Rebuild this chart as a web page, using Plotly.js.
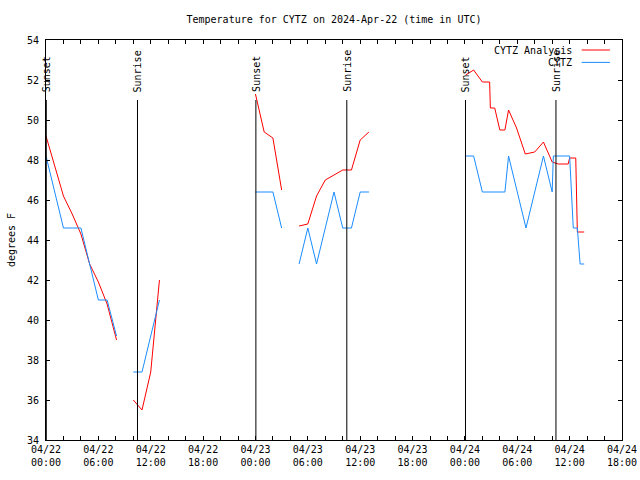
<!DOCTYPE html>
<html>
<head>
<meta charset="utf-8">
<script src="https://cdn.plot.ly/plotly-3.0.1.min.js"></script>
<style>html,body{margin:0;padding:0;background:#fff;}#chart{width:640px;height:480px;}</style>
</head>
<body>
<div id="chart"></div>
<script>
// ---- data ----
const analysisTimes = [
  '2024-04-22 00:00','2024-04-22 01:00','2024-04-22 02:00','2024-04-22 03:00','2024-04-22 04:00',
  '2024-04-22 05:00','2024-04-22 06:00','2024-04-22 07:00','2024-04-22 08:05','2024-04-22 09:00',
  '2024-04-22 10:00','2024-04-22 11:00','2024-04-22 12:00','2024-04-22 13:00','2024-04-22 18:00',
  '2024-04-23 00:00','2024-04-23 01:00','2024-04-23 02:00','2024-04-23 03:00','2024-04-23 04:00',
  '2024-04-23 05:00','2024-04-23 06:00','2024-04-23 07:00','2024-04-23 08:00','2024-04-23 09:00',
  '2024-04-23 10:00','2024-04-23 11:00','2024-04-23 12:00','2024-04-23 13:00','2024-04-23 18:00',
  '2024-04-24 00:05','2024-04-24 01:00','2024-04-24 02:00','2024-04-24 02:50','2024-04-24 02:55',
  '2024-04-24 03:25','2024-04-24 04:00','2024-04-24 04:35','2024-04-24 05:00','2024-04-24 05:55',
  '2024-04-24 06:55','2024-04-24 08:00','2024-04-24 09:00','2024-04-24 10:00','2024-04-24 10:42',
  '2024-04-24 11:50','2024-04-24 12:00','2024-04-24 12:42','2024-04-24 12:53','2024-04-24 13:40'
];
const analysisTemps = [
  49.2, 47.7, 46.2, 45.3, 44.3,
  42.8, 41.9, 40.8, 39.0, null,
  36.0, 35.5, 37.4, 42.0, null,
  51.3, 49.4, 49.1, 46.5, null,
  44.7, 44.8, 46.2, 47.0, 47.25,
  47.5, 47.5, 49.0, 49.4, null,
  52.25, 52.5, 51.9, 51.9, 50.6,
  50.6, 49.5, 49.5, 50.5, 49.6,
  48.3, 48.4, 48.9, 47.9, 47.8,
  47.8, 48.1, 48.1, 44.4, 44.4
];
const obsTimes = [
  '2024-04-22 00:00','2024-04-22 01:00','2024-04-22 02:00','2024-04-22 03:00','2024-04-22 04:00',
  '2024-04-22 05:00','2024-04-22 06:00','2024-04-22 07:00','2024-04-22 08:05','2024-04-22 09:00',
  '2024-04-22 10:00','2024-04-22 11:00','2024-04-22 12:00','2024-04-22 13:00','2024-04-22 18:00',
  '2024-04-23 00:00','2024-04-23 01:00','2024-04-23 02:00','2024-04-23 03:00','2024-04-23 04:00',
  '2024-04-23 05:00','2024-04-23 06:00','2024-04-23 07:00','2024-04-23 08:00','2024-04-23 09:00',
  '2024-04-23 10:00','2024-04-23 11:00','2024-04-23 12:00','2024-04-23 13:00','2024-04-23 18:00',
  '2024-04-24 00:00','2024-04-24 01:00','2024-04-24 02:00','2024-04-24 03:00','2024-04-24 04:00',
  '2024-04-24 04:35','2024-04-24 05:00','2024-04-24 06:00','2024-04-24 07:00','2024-04-24 08:00',
  '2024-04-24 09:00','2024-04-24 10:00','2024-04-24 10:08','2024-04-24 11:00','2024-04-24 12:00',
  '2024-04-24 12:25','2024-04-24 12:53','2024-04-24 13:12','2024-04-24 13:40'
];
const obsTemps = [
  48.2, 46.4, 44.6, 44.6, 44.6,
  42.8, 41.0, 41.0, 39.2, null,
  37.4, 37.4, 39.2, 41.0, null,
  46.4, 46.4, 46.4, 44.6, null,
  42.8, 44.6, 42.8, 44.6, 46.4,
  44.6, 44.6, 46.4, 46.4, null,
  48.2, 48.2, 46.4, 46.4, 46.4,
  46.4, 48.2, 46.4, 44.6, 46.4,
  48.2, 46.4, 48.2, 48.2, 48.2,
  44.6, 44.6, 42.8, 42.8
];
const sunTimes  = ['2024-04-22 00:02','2024-04-22 10:29','2024-04-23 00:03','2024-04-23 10:28','2024-04-24 00:04','2024-04-24 10:26'];
const sunLabels = ['Sunset','Sunrise','Sunset','Sunrise','Sunset','Sunrise'];
const seriesNames = ['CYTZ Analysis','CYTZ'];
const seriesColors = ['#ff0000','#1a8cff'];
const xRange = ['2024-04-22 00:00','2024-04-24 18:00'];
const yRange = [34, 54];
const sunLineTop = 51;
const sunLabelBase = 51.3;

const FONT = 'DejaVu Sans Mono, Liberation Mono, monospace';

const traces = [
  {x: analysisTimes, y: analysisTemps, name: seriesNames[0], mode: 'lines', type: 'scatter',
   connectgaps: false, line: {color: seriesColors[0], width: 1}, showlegend: false},
  {x: obsTimes, y: obsTemps, name: seriesNames[1], mode: 'lines', type: 'scatter',
   connectgaps: false, line: {color: seriesColors[1], width: 1}, showlegend: false},
  // carrier for the top tick axis (no marks)
  {x: [], y: [], xaxis: 'x2', yaxis: 'y', mode: 'lines', showlegend: false, hoverinfo: 'skip'}
];

const shapes = sunTimes.map(t => ({type: 'line', xref: 'x', yref: 'y', x0: t, x1: t, y0: yRange[0], y1: sunLineTop,
  line: {color: '#000', width: 1}}));
const annotations = sunTimes.map((t, i) => ({x: t, y: sunLabelBase, xref: 'x', yref: 'y', text: sunLabels[i],
  textangle: -90, showarrow: false, xanchor: 'center', yanchor: 'bottom', font: {family: FONT, size: 10, color: '#000'}}));

// legend (gnuplot style: text then sample line)
const legY = [0.975, 0.944];
seriesNames.forEach((n, i) => {
  annotations.push({xref: 'paper', yref: 'paper', x: 0.9167, y: legY[i], text: n, showarrow: false,
    xanchor: 'right', yanchor: 'middle', font: {family: FONT, size: 10, color: '#000'}});
  shapes.push({type: 'line', xref: 'paper', yref: 'paper', x0: 0.930, x1: 0.979, y0: legY[i], y1: legY[i],
    line: {color: seriesColors[i], width: 1}});
});

const layout = {
  width: 640, height: 480,
  margin: {l: 46, r: 18, t: 40, b: 40},
  paper_bgcolor: '#fff', plot_bgcolor: '#fff',
  font: {family: FONT, size: 10, color: '#000'},
  title: {text: 'Temperature for CYTZ on 2024-Apr-22 (time in UTC)', x: 0.5, xref: 'paper',
    y: 1 - 19/480, yref: 'container', yanchor: 'middle', font: {family: FONT, size: 10, color: '#000'}},
  xaxis: {type: 'date', range: xRange, dtick: 6*3600*1000, tick0: '2024-04-22 00:00',
    tickformat: '%m/%d<br>%H:%M', ticks: 'inside', ticklen: 4, tickcolor: '#000', tickwidth: 1,
    minor: {dtick: 2*3600*1000, ticks: 'inside', ticklen: 4, tickcolor: '#000', showgrid: false},
    showline: true, linecolor: '#000', linewidth: 1, mirror: 'ticks', showgrid: false, zeroline: false,
    tickfont: {family: FONT, size: 10, color: '#000'}, fixedrange: true},
  xaxis2: {type: 'date', range: xRange, overlaying: 'x', side: 'top', dtick: 2*3600*1000, tick0: '2024-04-22 00:00',
    ticks: 'inside', ticklen: 4, tickcolor: '#000', tickwidth: 1, showticklabels: false,
    showline: false, showgrid: false, zeroline: false, fixedrange: true},
  yaxis: {range: yRange, dtick: 2, ticks: 'inside', ticklen: 4, tickcolor: '#000', tickwidth: 1,
    showline: true, linecolor: '#000', linewidth: 1, mirror: 'ticks', showgrid: false, zeroline: false,
    ticklabelstandoff: 4,
    tickfont: {family: FONT, size: 10, color: '#000'},
    title: {text: 'degrees F', standoff: 9, font: {family: FONT, size: 10, color: '#000'}}, fixedrange: true},
  shapes: shapes,
  annotations: annotations,
  showlegend: false
};

Plotly.newPlot('chart', traces, layout, {staticPlot: true, displayModeBar: false});
</script>
</body>
</html>
